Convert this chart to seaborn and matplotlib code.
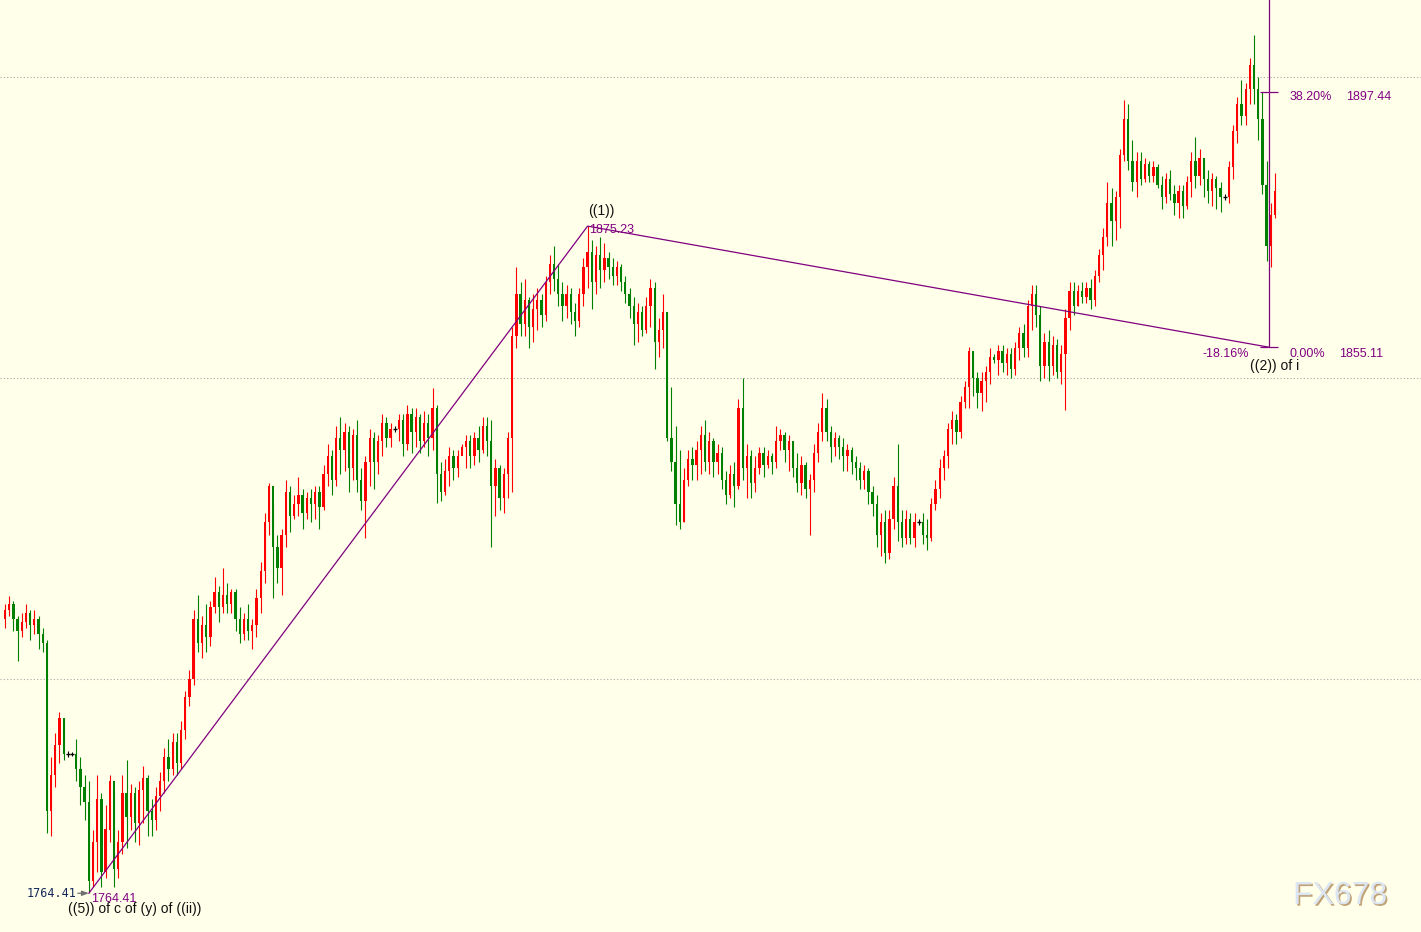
"""
Gráfico de velas XAU/USD con conteo de ondas y retroceso Fibonacci
"""

import numpy as np
import pandas as pd
import matplotlib
matplotlib.use('Agg')
import matplotlib.pyplot as plt
import matplotlib.patheffects as pe
import seaborn as sns

# ---- datos de velas (open = cierre anterior) ----
first_open = 1810.0

closes = [
    1811.5, 1812.5, 1810.0, 1808.0, 1809.5, 1811.0, 1809.0, 1810.0, 1807.5, 1806.0,
    1778.0, 1784.0, 1789.0, 1793.5, 1787.5, 1787.5, 1787.5, 1785.0, 1782.0, 1779.5,
    1766.5,
    1773.0, 1780.0, 1768.0, 1775.0, 1783.0, 1768.5, 1773.0, 1781.0, 1777.0, 1781.0,
    1776.0, 1781.5, 1783.5, 1778.0, 1776.5, 1780.5, 1783.0, 1787.0, 1785.0, 1789.5,
    1786.0, 1791.5, 1797.0, 1800.0, 1810.0, 1806.0, 1809.0, 1807.0, 1812.0, 1814.5,
    1812.0, 1814.0, 1812.5, 1814.5, 1810.0, 1807.5, 1810.0, 1808.0, 1809.0, 1813.5,
    1818.0, 1826.0, 1832.0, 1822.0, 1818.5, 1824.0, 1831.0, 1827.0, 1829.0, 1830.5,
    1827.5, 1830.0, 1829.0, 1831.0, 1828.5, 1834.0, 1837.0, 1833.0, 1840.0, 1838.0,
    1841.0, 1835.0, 1840.5, 1833.0, 1829.5, 1836.0, 1840.0, 1836.0, 1839.5, 1842.5,
    1840.0, 1841.5, 1841.5, 1843.0, 1839.0, 1844.0, 1841.0, 1843.5, 1839.5, 1842.5,
    1840.0, 1845.0, 1834.0, 1831.0, 1834.5, 1837.0, 1835.0, 1837.0, 1838.5, 1839.5,
    1837.0, 1840.0, 1838.0, 1842.0, 1839.5, 1832.0, 1835.0, 1830.0, 1834.0, 1840.0,
    1857.0, 1864.0, 1859.0, 1863.0, 1858.5, 1861.5, 1863.0, 1860.5, 1866.0, 1869.0,
    1866.5, 1864.0, 1862.0, 1864.0, 1861.0, 1859.5, 1864.0, 1868.5, 1871.0, 1866.0,
    1870.5, 1868.0, 1870.0, 1868.5, 1867.0, 1868.5, 1866.0, 1864.0, 1862.0, 1859.0,
    1861.0, 1858.0, 1862.0, 1865.0, 1856.0, 1858.0, 1861.0, 1840.0, 1836.0, 1829.0,
    1826.0, 1833.0, 1836.5, 1835.5, 1838.0, 1840.5, 1836.0, 1839.5, 1836.0, 1837.5,
    1833.0, 1830.5, 1834.0, 1832.0, 1845.0, 1835.0, 1837.0, 1832.5, 1835.0, 1837.5,
    1835.5, 1837.0, 1836.0, 1839.5, 1840.5, 1838.0, 1839.5, 1835.0, 1832.5, 1835.5,
    1831.5, 1833.0, 1837.5, 1841.0, 1845.0, 1841.0, 1838.5, 1840.0, 1838.5, 1837.0,
    1838.0, 1836.0, 1835.0, 1833.0, 1834.5, 1831.0, 1829.0, 1824.0, 1826.0, 1821.0,
    1826.5, 1832.0, 1826.0, 1823.5, 1826.5, 1823.5, 1826.0, 1826.0, 1824.0, 1823.5,
    1829.0, 1831.5, 1835.0, 1837.0, 1841.5, 1843.0, 1841.0, 1846.0, 1848.5, 1854.5,
    1850.0, 1847.5, 1849.5, 1851.0, 1853.5, 1853.0, 1854.5, 1852.5, 1854.0, 1851.5,
    1855.0, 1857.5, 1855.0, 1862.0, 1864.0, 1860.5, 1852.0, 1856.0, 1852.0, 1855.5,
    1851.0, 1854.0, 1860.0, 1864.5, 1862.0, 1864.5, 1863.5, 1865.0, 1863.0, 1867.0,
    1870.5, 1873.5, 1879.0, 1876.0, 1880.0, 1887.0, 1893.0, 1886.0, 1882.5, 1886.0,
    1883.0, 1885.5, 1883.5, 1885.0, 1882.0, 1880.0, 1883.0, 1880.5, 1879.0, 1881.0,
    1878.5, 1882.5, 1886.0, 1883.5, 1886.5, 1883.0, 1881.0, 1883.0, 1881.5, 1880.0,
    1880.0, 1885.0, 1891.0, 1895.5, 1893.5, 1898.0, 1902.0, 1898.0, 1893.0, 1882.0,
    1872.0, 1877.0, 1881.0,
]

highs = [
    1812.5, 1813.8, 1813.0, 1810.5, 1811.0, 1812.5, 1811.5, 1811.5, 1810.5, 1808.5,
    1806.5, 1787.0, 1791.0, 1794.5, 1793.5, 1788.0, 1787.8, 1790.0, 1787.0, 1784.0,
    1783.0,
    1775.0, 1784.0, 1781.0, 1779.0, 1784.0, 1781.0, 1775.0, 1784.0, 1786.5, 1782.5,
    1782.0, 1783.0, 1785.5, 1784.0, 1780.0, 1782.0, 1784.5, 1788.5, 1790.0, 1791.0,
    1791.0, 1793.0, 1798.0, 1801.5, 1811.5, 1814.0, 1810.5, 1812.5, 1813.0, 1817.0,
    1815.5, 1818.5, 1816.0, 1815.0, 1815.0, 1812.0, 1811.0, 1812.5, 1810.0, 1815.0,
    1819.5, 1827.5, 1832.5, 1829.0, 1824.0, 1825.0, 1833.0, 1832.0, 1830.5, 1833.5,
    1831.5, 1831.0, 1831.5, 1832.0, 1832.0, 1835.5, 1839.0, 1838.0, 1842.0, 1843.5,
    1842.5, 1842.0, 1841.5, 1843.0, 1835.0, 1837.0, 1841.5, 1841.0, 1840.5, 1844.0,
    1843.5, 1842.5, 1842.0, 1844.0, 1844.0, 1845.5, 1845.0, 1845.0, 1844.0, 1844.5,
    1844.0, 1848.3, 1845.5, 1836.0, 1836.5, 1838.5, 1838.0, 1838.0, 1839.0, 1840.5,
    1840.5, 1841.0, 1842.0, 1843.5, 1843.5, 1843.0, 1836.5, 1835.5, 1835.0, 1841.0,
    1858.5, 1868.5, 1866.0, 1866.5, 1863.5, 1864.0, 1865.0, 1864.0, 1867.0, 1870.5,
    1872.0, 1869.0, 1866.0, 1865.5, 1865.0, 1862.5, 1865.0, 1870.0, 1875.23, 1873.0,
    1872.0, 1873.5, 1872.5, 1871.0, 1870.0, 1869.5, 1869.0, 1867.0, 1865.0, 1863.5,
    1862.5, 1862.0, 1863.5, 1866.5, 1866.0, 1860.0, 1864.0, 1861.0, 1848.5, 1842.0,
    1838.0, 1835.0, 1838.0, 1838.5, 1839.5, 1842.0, 1843.0, 1841.0, 1840.0, 1839.0,
    1838.5, 1834.5, 1835.5, 1836.0, 1846.5, 1850.0, 1839.0, 1838.0, 1837.0, 1838.5,
    1838.5, 1838.0, 1837.5, 1842.0, 1841.5, 1841.0, 1840.5, 1839.5, 1837.5, 1837.0,
    1836.0, 1834.0, 1839.0, 1842.5, 1847.5, 1846.5, 1842.0, 1841.0, 1840.5, 1840.0,
    1839.0, 1838.5, 1837.0, 1836.0, 1835.5, 1835.0, 1832.0, 1830.5, 1827.5, 1828.0,
    1828.0, 1833.5, 1839.0, 1828.0, 1828.0, 1827.5, 1827.5, 1826.5, 1827.5, 1826.5,
    1830.0, 1833.0, 1836.5, 1838.0, 1842.5, 1844.5, 1844.0, 1847.0, 1849.5, 1855.2,
    1854.3, 1851.0, 1851.0, 1852.0, 1855.0, 1854.0, 1855.5, 1855.5, 1855.0, 1855.0,
    1856.0, 1858.5, 1859.0, 1863.0, 1865.5, 1865.5, 1862.0, 1857.5, 1858.0, 1857.0,
    1856.5, 1855.5, 1861.5, 1866.0, 1866.0, 1865.5, 1866.0, 1866.0, 1866.5, 1868.0,
    1871.5, 1875.0, 1882.5, 1881.5, 1881.0, 1888.0, 1896.2, 1895.5, 1889.5, 1887.5,
    1887.5, 1886.5, 1886.0, 1886.0, 1885.5, 1883.5, 1884.0, 1884.5, 1882.0, 1882.0,
    1882.0, 1883.5, 1887.5, 1890.0, 1888.0, 1886.5, 1884.5, 1884.0, 1883.5, 1882.5,
    1880.5, 1886.0, 1892.0, 1896.7, 1899.5, 1899.0, 1903.2, 1907.0, 1900.0, 1897.5,
    1886.0, 1879.0, 1884.0,
]

lows = [
    1808.5, 1810.5, 1808.0, 1803.0, 1807.0, 1808.5, 1806.5, 1807.5, 1805.0, 1804.5,
    1774.5, 1774.0, 1782.0, 1786.0, 1786.5, 1787.0, 1787.2, 1783.0, 1779.0, 1776.5,
    1764.41,
    1765.5, 1768.0, 1765.5, 1767.0, 1773.0, 1765.5, 1767.0, 1771.0, 1772.0, 1775.0,
    1773.0, 1772.5, 1776.0, 1774.0, 1774.0, 1775.0, 1778.0, 1781.0, 1783.0, 1784.0,
    1784.0, 1785.0, 1790.0, 1795.5, 1799.0, 1804.5, 1803.5, 1804.5, 1805.5, 1811.0,
    1809.5, 1811.0, 1811.0, 1811.0, 1808.0, 1806.0, 1806.5, 1806.5, 1805.0, 1807.0,
    1811.0, 1816.0, 1824.0, 1813.5, 1816.0, 1814.0, 1822.0, 1824.5, 1826.5, 1827.0,
    1825.0, 1826.5, 1826.0, 1826.5, 1825.0, 1828.0, 1832.0, 1830.5, 1832.0, 1834.0,
    1834.5, 1831.0, 1833.0, 1831.0, 1828.0, 1823.5, 1832.0, 1831.5, 1834.0, 1837.0,
    1838.5, 1838.5, 1841.0, 1839.5, 1837.0, 1838.0, 1837.5, 1838.5, 1837.5, 1838.5,
    1837.0, 1838.0, 1829.3, 1829.5, 1830.5, 1832.0, 1833.0, 1833.5, 1838.0, 1835.0,
    1835.0, 1835.5, 1836.0, 1837.5, 1837.0, 1822.0, 1827.0, 1828.0, 1827.5, 1830.0,
    1831.0, 1855.0, 1857.0, 1857.0, 1855.0, 1856.0, 1858.0, 1858.5, 1859.5, 1864.0,
    1864.5, 1862.0, 1859.5, 1860.0, 1859.0, 1857.0, 1858.5, 1862.0, 1865.0, 1861.5,
    1864.0, 1865.0, 1866.0, 1866.5, 1865.5, 1865.5, 1864.5, 1862.5, 1860.0, 1855.5,
    1856.0, 1857.0, 1857.5, 1858.5, 1851.5, 1853.5, 1855.0, 1839.5, 1834.5, 1825.5,
    1825.0, 1826.0, 1832.0, 1833.0, 1833.0, 1834.0, 1834.5, 1834.0, 1833.5, 1834.0,
    1831.5, 1829.0, 1830.0, 1828.5, 1831.5, 1833.0, 1830.0, 1830.0, 1831.0, 1834.0,
    1833.5, 1835.0, 1834.0, 1835.0, 1838.0, 1836.0, 1834.5, 1833.5, 1831.0, 1830.5,
    1830.0, 1824.0, 1831.0, 1836.0, 1839.5, 1839.5, 1836.0, 1837.0, 1836.5, 1834.5,
    1834.5, 1834.0, 1833.0, 1831.5, 1831.5, 1829.0, 1827.0, 1822.0, 1820.5, 1819.3,
    1820.0, 1825.0, 1823.0, 1822.0, 1822.5, 1822.5, 1822.0, 1825.5, 1822.5, 1821.5,
    1823.0, 1828.0, 1830.0, 1833.0, 1835.0, 1839.0, 1839.0, 1840.0, 1845.0, 1845.0,
    1847.0, 1845.0, 1844.5, 1846.0, 1849.0, 1852.5, 1850.5, 1851.0, 1850.5, 1850.0,
    1850.5, 1853.0, 1853.5, 1853.5, 1858.0, 1858.5, 1849.5, 1850.0, 1849.5, 1850.5,
    1850.0, 1849.0, 1844.7, 1858.0, 1860.5, 1862.0, 1862.5, 1862.5, 1861.5, 1862.0,
    1866.0, 1868.0, 1872.0, 1872.0, 1873.0, 1875.0, 1886.0, 1884.5, 1881.0, 1880.0,
    1882.0, 1882.5, 1882.5, 1882.5, 1881.5, 1878.0, 1879.0, 1879.5, 1877.0, 1876.5,
    1876.5, 1878.0, 1880.0, 1881.5, 1882.0, 1880.0, 1879.0, 1878.5, 1878.0, 1877.5,
    1879.5, 1879.0, 1883.0, 1889.0, 1892.0, 1892.0, 1895.5, 1895.5, 1889.5, 1880.5,
    1869.5, 1868.5, 1876.5,
]

# ---- ondas y Fibonacci ----
wave_idx = [20, 139, 301.6]
wave_price = [1764.41, 1875.23, 1855.11]
fib_levels = [1897.44, 1855.11]
fib_pcts = ['38.20%', '0.00%']
grid_levels = [1800, 1850, 1900]

BG = '#FFFFEA'
UP = '#FF0000'
DOWN = '#008000'
PURPLE = '#800080'
NAVY = '#14285A'


def build_frame():
    """Arma el DataFrame OHLC"""
    df = pd.DataFrame({'close': closes, 'high': highs, 'low': lows})
    df['open'] = [first_open] + closes[:-1]
    df['idx'] = np.arange(len(df))
    return df


def draw_candles(ax, df):
    """Dibuja mechas y cuerpos"""
    doji = df['close'] == df['open']
    colors = np.where(df['close'] > df['open'], UP, DOWN)
    colors = np.where(doji, 'black', colors)

    ax.vlines(df['idx'], df['low'], df['high'], colors=colors, lw=0.8, zorder=2)

    body_lo = df[['open', 'close']].min(axis=1)
    body_h = (df['close'] - df['open']).abs()
    ax.bar(df.loc[~doji, 'idx'], body_h[~doji], bottom=body_lo[~doji],
           width=0.55, color=colors[~doji.values], linewidth=0, zorder=3)
    ax.hlines(df.loc[doji, 'close'], df.loc[doji, 'idx'] - 0.45,
              df.loc[doji, 'idx'] + 0.45, colors='black', lw=1.0, zorder=3)


def draw_annotations(ax):
    """Líneas de onda, Fibonacci y etiquetas"""
    sns.lineplot(x=wave_idx, y=wave_price, color=PURPLE, lw=0.9, ax=ax,
                 sort=False, estimator=None, zorder=4)

    fib_x = wave_idx[-1]
    ax.vlines(fib_x, fib_levels[1], 1920, colors=PURPLE, lw=0.9, zorder=4)
    for lvl in fib_levels:
        ax.hlines(lvl, fib_x - 2.2, fib_x + 2.2, colors=PURPLE, lw=0.9, zorder=4)

    lab = dict(textcoords='offset pixels', va='center', fontsize=9,
               family='Liberation Sans')
    ax.annotate(fib_pcts[0], (fib_x, fib_levels[0]), xytext=(20, -5), color=PURPLE, **lab)
    ax.annotate(f'{fib_levels[0]:.2f}', (fib_x, fib_levels[0]), xytext=(77, -5), color=PURPLE, **lab)
    ax.annotate(fib_pcts[1], (fib_x, fib_levels[1]), xytext=(20, -7), color=PURPLE, **lab)
    ax.annotate(f'{fib_levels[1]:.2f}', (fib_x, fib_levels[1]), xytext=(70, -7), color=PURPLE, **lab)
    ax.annotate('-18.16%', (fib_x, fib_levels[1]), xytext=(-20, -7), ha='right',
                color=PURPLE, **lab)

    big = dict(lab, fontsize=10)
    ax.annotate('((2)) of i', (fib_x, fib_levels[1]), xytext=(-19, -19), color='#111111', **big)
    ax.annotate('((1))', (wave_idx[1], wave_price[1]), xytext=(1, 15), color='#111111', **big)
    ax.annotate(f'{wave_price[1]:.2f}', (wave_idx[1], wave_price[1]), xytext=(1, -4),
                color=PURPLE, **lab)

    # etiquetas del mínimo (se solapan un poco, igual que en el original)
    ax.annotate(f'{wave_price[0]:.2f}', (wave_idx[0], wave_price[0]), xytext=(2, -6),
                color=PURPLE, **lab)
    ax.annotate('((5)) of c of (y) of ((ii))', (wave_idx[0], wave_price[0]),
                xytext=(-21, -16), color='#111111', **big)
    ax.annotate(f'{wave_price[0]:.2f}', (wave_idx[0], wave_price[0]), xytext=(-12, 0),
                textcoords='offset pixels', ha='right', va='center', fontsize=8.5,
                family='DejaVu Sans Mono', color=NAVY)
    ax.annotate('', (wave_idx[0], wave_price[0]), xytext=(-11, 0),
                textcoords='offset pixels',
                arrowprops=dict(arrowstyle='-|>,head_length=0.4,head_width=0.15',
                                color='#707070', lw=0.9, shrinkA=0, shrinkB=0))


def main():
    sns.set_style('white')
    plt.rcParams['font.family'] = ['Liberation Sans', 'DejaVu Sans']

    df = build_frame()

    fig = plt.figure(figsize=(14.21, 9.32), dpi=100)
    fig.patch.set_facecolor(BG)
    ax = fig.add_axes([0, 0, 1, 1])
    ax.set_facecolor(BG)

    # Escalas: vela i en x = 5 + i*paso px, precio con 6.02 px por dólar
    step = 1270 / (len(df) - 1)
    ax.set_xlim(-5 / step, 1416 / step)
    ax.set_ylim(1900 - 855 / 6.02, 1900 + 77 / 6.02)

    for lvl in grid_levels:
        ax.axhline(lvl, color='#A8A8A8', lw=0.8, ls=(0, (1, 2)), zorder=1)

    draw_candles(ax, df)
    draw_annotations(ax)

    for s in ax.spines.values():
        s.set_visible(False)
    ax.set_xticks([])
    ax.set_yticks([])
    ax.set_xlabel('')
    ax.set_ylabel('')

    # Marca de agua
    fig.text(1293 / 1421, 1 - 896 / 932, 'FX678', fontsize=23, color='#DCE6F2',
             family='Liberation Sans', va='center', ha='left',
             path_effects=[pe.withSimplePatchShadow(offset=(1.2, -1.2),
                                                    shadow_rgbFace='#B8986C', alpha=0.9)])

    plt.savefig('out.png', dpi=100, facecolor=BG)
    print('✅ Gráfico guardado: out.png')


if __name__ == '__main__':
    main()
